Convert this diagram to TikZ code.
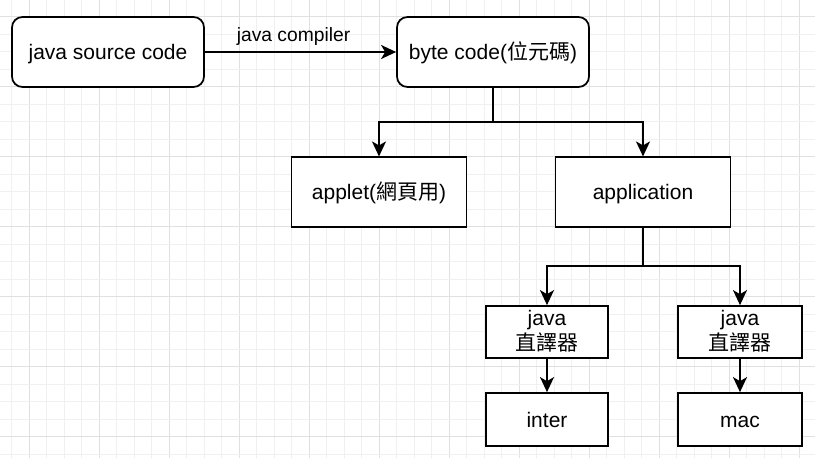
\documentclass[tikz,border=0pt]{standalone}
\usepackage{fontspec}
\setmainfont{Liberation Sans}
\newfontfamily\cjk{Noto Sans CJK TC}
\usetikzlibrary{arrows.meta}
\tikzset{
  box/.style={draw=black, line width=1.75pt, fill=white, inner sep=0pt, align=center,
    font=\fontsize{21pt}{25pt}\selectfont, text=black, text height=19.5pt, text depth=4.5pt},
  twoline/.style={text height=40pt, text depth=4pt},
  rbox/.style={box, rounded corners=10.5pt},
  conn/.style={draw=black, line width=1.75pt, -{Stealth[length=15pt,width=14pt,inset=4pt]}},
  lbl/.style={font=\fontsize{19.25pt}{23pt}\selectfont, text=black, inner sep=0pt},
  minorgrid/.style={draw=black!6, line width=1pt},
  majorgrid/.style={draw=black!12, line width=1pt}
}
\begin{document}
\begin{tikzpicture}[x=1pt,y=-1pt]
  \useasboundingbox (0,0) rectangle (815,458);
  \fill[white] (0,0) rectangle (815,458);
  % grid
  \foreach \k in {-1,...,46} {
    \pgfmathsetmacro{\gx}{11.8+17.5*\k}
    \pgfmathtruncatemacro{\m}{mod(\k+4,4)}
    \ifnum\m=1
      \draw[majorgrid] (\gx,0) -- (\gx,458);
    \else
      \draw[minorgrid] (\gx,0) -- (\gx,458);
    \fi
  }
  \foreach \k in {-1,...,25} {
    \pgfmathsetmacro{\gy}{16.7+17.5*\k}
    \pgfmathtruncatemacro{\m}{mod(\k+4,4)}
    \ifnum\m=0
      \draw[majorgrid] (0,\gy) -- (815,\gy);
    \else
      \draw[minorgrid] (0,\gy) -- (815,\gy);
    \fi
  }
  % nodes
  \node[rbox, minimum width=192pt, minimum height=70pt] (src) at (108,52) {java source code};
  \node[rbox, minimum width=192pt, minimum height=70pt] (byte) at (493,52) {byte code({\cjk 位元碼})};
  \node[box, minimum width=175pt, minimum height=70pt] (applet) at (379,192.3) {applet({\cjk 網頁用})};
  \node[box, minimum width=175pt, minimum height=70pt] (app) at (643,192.3) {application};
  \node[box, twoline, minimum width=122pt, minimum height=52pt] (j1) at (547,332) {java\\{\cjk 直譯器}};
  \node[box, twoline, minimum width=124pt, minimum height=52pt] (j2) at (740,332) {java\\{\cjk 直譯器}};
  \node[box, minimum width=122pt, minimum height=53pt] (inter) at (547,419.5) {inter};
  \node[box, minimum width=124pt, minimum height=53pt] (mac) at (740,419.5) {mac};
  % connectors
  \draw[conn] (src) -- node[lbl, anchor=base, yshift=10.5pt, xshift=-7pt] {java compiler} (byte);
  \coordinate (bsplit) at (493,122);
  \coordinate (asplit) at (643,266);
  \draw[conn] (byte.south) -- (bsplit) -| (applet.north);
  \draw[conn] (byte.south) -- (bsplit) -| (app.north);
  \draw[conn] (app.south) -- (asplit) -| (j1.north);
  \draw[conn] (app.south) -- (asplit) -| (j2.north);
  \draw[conn] (j1) -- (inter);
  \draw[conn] (j2) -- (mac);
\end{tikzpicture}
\end{document}
